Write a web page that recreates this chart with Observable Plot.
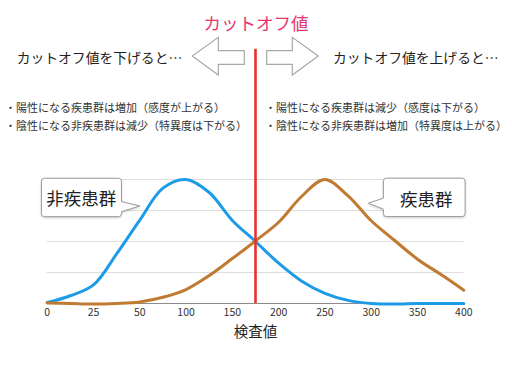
<!DOCTYPE html>
<html>
<head>
<meta charset="utf-8">
<script src="https://cdn.jsdelivr.net/npm/d3@7"></script>
<script src="https://cdn.jsdelivr.net/npm/@observablehq/plot@0.6"></script>
<style>
  html, body { margin: 0; padding: 0; background: #fff; }
  #wrap { position: relative; width: 512px; height: 384px; overflow: hidden;
          font-family: "Noto Sans CJK JP", "Noto Sans", sans-serif; color: #333; }
  #wrap svg { position: absolute; left: 0; top: 0; }
  .t { position: absolute; white-space: nowrap; line-height: 1; }
</style>
</head>
<body>
<div id="wrap"></div>
<script>
// ---- data ----
const tickLabels = ["0", "25", "50", "100", "150", "200", "250", "300", "350", "400"];
const tickPositions = [0, 1, 2, 3, 4, 5, 6, 7, 8, 9];
const samplePositions = [0, 0.5, 1, 1.5, 2, 2.5, 3, 3.5, 4, 4.5, 5, 5.5, 6, 6.5, 7, 7.5, 8, 8.5, 9];
const nonDiseased = [0.03, 0.25, 0.6, 1.6, 2.69, 3.72, 4.0, 3.58, 2.68, 2.0, 1.3, 0.72, 0.33, 0.1, 0.0, -0.02, 0.0, 0.0, 0.0];
const diseased    = [0.02, 0.0, -0.02, 0.0, 0.05, 0.2, 0.45, 0.9, 1.45, 2.02, 2.62, 3.46, 4.0, 3.47, 2.67, 2.04, 1.43, 0.94, 0.43];
const seriesNames = ["非疾患群", "疾患群"];
const seriesColors = ["#1e9be6", "#c07a32"];
const cutoffPosition = 4.5;      // 175
const cutoffTop = 8.2;           // line extends above the frame
const gridValues = [1, 2, 3, 4];
const xTitle = "検査値";
const callouts = [
  {label: "非疾患群", x: 2.01, y: 3.13, side: "right"},
  {label: "疾患群", x: 6.95, y: 3.22, side: "left"}
];

// ---- build table ----
const rows = [];
samplePositions.forEach((p, i) => {
  rows.push({pos: p, value: nonDiseased[i], series: seriesNames[0]});
  rows.push({pos: p, value: diseased[i], series: seriesNames[1]});
});

// custom callout mark
function calloutMark(data) {
  return function(index, scales) {
    const g = d3.create("svg:g");
    for (const c of data) {
      const tx = scales.x(c.x), ty = scales.y(c.y);
      let x0, x1, y0, y1, pa, pb, textX, textY;
      const r = 3;
      if (c.side === "right") {
        x0 = tx - 98.3; x1 = tx - 18.3; y0 = ty - 27.7; y1 = ty + 10.7;
        pa = ty - 4.3; pb = ty + 5.7;
        textX = tx - 93.5; textY = ty - 8;
      } else {
        x0 = tx + 15; x1 = tx + 96.7; y0 = ty - 25; y1 = ty + 13.4;
        pa = ty - 5; pb = ty + 6;
        textX = tx + 31.7; textY = ty - 4.8;
      }
      let d;
      if (c.side === "right") {
        d = `M${x0+r},${y0}H${x1-r}Q${x1},${y0} ${x1},${y0+r}V${pa}L${tx},${ty}L${x1},${pb}V${y1-r}Q${x1},${y1} ${x1-r},${y1}H${x0+r}Q${x0},${y1} ${x0},${y1-r}V${y0+r}Q${x0},${y0} ${x0+r},${y0}Z`;
      } else {
        d = `M${x0+r},${y0}H${x1-r}Q${x1},${y0} ${x1},${y0+r}V${y1-r}Q${x1},${y1} ${x1-r},${y1}H${x0+r}Q${x0},${y1} ${x0},${y1-r}V${pb}L${tx},${ty}L${x0},${pa}V${y0+r}Q${x0},${y0} ${x0+r},${y0}Z`;
      }
      g.append("path").attr("d", d).attr("fill", "#fff").attr("stroke", "#9a9a9a")
        .attr("stroke-width", 1)
        .style("filter", "drop-shadow(0px 1px 1px rgba(0,0,0,0.18))");
      g.append("text").attr("x", textX).attr("y", textY)
        .attr("text-anchor", "start")
        .attr("dominant-baseline", "central")
        .attr("font-size", 17.5).attr("fill", "#222")
        .attr("font-family", '"Noto Sans CJK JP", sans-serif')
        .text(c.label);
    }
    return g.node();
  };
}

const chart = Plot.plot({
  width: 512,
  height: 384,
  marginLeft: 46.7,
  marginRight: 48.7,
  marginTop: 179,
  marginBottom: 81,
  style: {fontFamily: '"Noto Sans CJK JP", sans-serif', fontSize: "10.5px", color: "#333", background: "transparent"},
  x: {domain: [0, 9], axis: null},
  y: {domain: [0, 4], axis: null},
  color: {domain: seriesNames, range: seriesColors},
  marks: [
    Plot.ruleY(gridValues, {stroke: "#dedede", strokeWidth: 1}),
    Plot.ruleY([0], {stroke: "#8c8c8c", strokeWidth: 1}),
    Plot.axisX({ticks: tickPositions, tickFormat: i => tickLabels[i], tickSize: 0, tickPadding: 5, fontSize: 10.5, fill: "#333", label: null}),
    Plot.text([xTitle], {frameAnchor: "bottom", dy: 29, fontSize: 14.5, fill: "#222", lineAnchor: "middle"}),
    Plot.line(rows, {x: "pos", y: "value", z: "series", stroke: "series", strokeWidth: 3, curve: "catmull-rom", strokeLinejoin: "round", strokeLinecap: "round"}),
    Plot.ruleX([cutoffPosition], {y1: 0, y2: cutoffTop, stroke: "#e8302c", strokeWidth: 2.6}),
    calloutMark(callouts)
  ]
});

const wrap = document.getElementById("wrap");
wrap.appendChild(chart);

// arrows overlay
const ov = d3.select(wrap).append("svg").attr("width", 512).attr("height", 384)
  .style("pointer-events", "none");
const arrowStyle = s => s.attr("fill", "#fff").attr("stroke", "#a8a8a8").attr("stroke-width", 1.2).attr("stroke-linejoin", "miter");
arrowStyle(ov.append("polygon").attr("points", "192.3,56 218.3,37.3 218.3,50.7 244.3,50.7 244.3,64.3 218.3,64.3 218.3,75"));
arrowStyle(ov.append("polygon").attr("points", "318.3,56 292.3,37.3 292.3,50.7 266.7,50.7 266.7,64.3 292.3,64.3 292.3,75"));

// text overlay
function addText(txt, left, centerY, size, color, anchor) {
  const el = document.createElement("div");
  el.className = "t";
  el.textContent = txt;
  el.style.fontSize = size + "px";
  el.style.color = color;
  el.style.top = (centerY - size / 2) + "px";
  if (anchor === "middle") {
    el.style.width = "512px"; el.style.textAlign = "center";
    el.style.left = (left - 256) + "px";
  } else {
    el.style.left = left + "px";
  }
  wrap.appendChild(el);
}
addText("カットオフ値", 256, 22.3, 17.5, "#e6356b", "middle");
addText("カットオフ値を下げると…", 16.7, 58.3, 13.8, "#222");
addText("カットオフ値を上げると…", 333, 58.3, 13.8, "#222");
addText("・陽性になる疾患群は増加（感度が上がる）", 5, 107, 11, "#333");
addText("・陰性になる非疾患群は減少（特異度は下がる）", 5, 125, 11, "#333");
addText("・陽性になる疾患群は減少（感度は下がる）", 265, 107, 11, "#333");
addText("・陰性になる非疾患群は増加（特異度は上がる）", 265, 125, 11, "#333");
</script>
</body>
</html>
